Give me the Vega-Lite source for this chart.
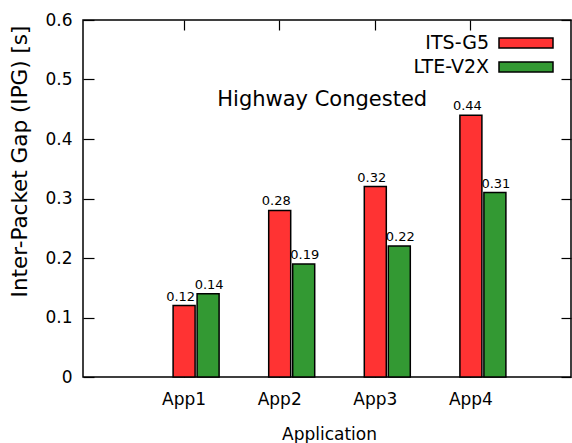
{
  "$schema": "https://vega.github.io/schema/vega-lite/v6.json",
  "width": 488,
  "height": 357,
  "autosize": {"type": "none"},
  "padding": {"left": 83, "top": 20, "right": 1, "bottom": 66},
  "background": "white",
  "config": {
    "view": {"stroke": "black", "strokeWidth": 1.5},
    "font": "DejaVu Sans",
    "axis": {
      "domain": false,
      "grid": false,
      "tickColor": "black",
      "tickWidth": 1.2,
      "labelColor": "black",
      "labelFont": "DejaVu Sans",
      "labelFontSize": 17,
      "titleFont": "DejaVu Sans",
      "titleFontSize": 17,
      "titleFontWeight": "normal",
      "titleColor": "black"
    },
    "legend": {
      "orient": "none",
      "legendX": 432,
      "legendY": 12,
      "symbolType": "M-2.7,-0.5H2.7V0.5H-2.7Z",
      "symbolSize": 400,
      "symbolStrokeColor": "black",
      "symbolStrokeWidth": 1.5,
      "symbolOpacity": 1,
      "labelAlign": "right",
      "labelOffset": -48,
      "labelFont": "DejaVu Sans",
      "labelFontSize": 19,
      "labelColor": "black",
      "rowPadding": 3,
      "padding": 0
    }
  },
  "datasets": {
    "ipg": [
      {"app": 1, "series": "ITS-G5", "ipg": 0.12},
      {"app": 1, "series": "LTE-V2X", "ipg": 0.14},
      {"app": 2, "series": "ITS-G5", "ipg": 0.28},
      {"app": 2, "series": "LTE-V2X", "ipg": 0.19},
      {"app": 3, "series": "ITS-G5", "ipg": 0.32},
      {"app": 3, "series": "LTE-V2X", "ipg": 0.22},
      {"app": 4, "series": "ITS-G5", "ipg": 0.44},
      {"app": 4, "series": "LTE-V2X", "ipg": 0.31}
    ],
    "note": [
      {"label": "Highway Congested", "app": 2.45, "ipg": 0.465}
    ]
  },
  "data": {"name": "ipg"},
  "layer": [
    {
      "encoding": {
        "x": {
          "field": "app",
          "type": "quantitative",
          "scale": {"domain": [0, 5], "nice": false, "zero": false},
          "axis": {
            "orient": "bottom",
            "values": [1, 2, 3, 4],
            "labelExpr": "'App' + datum.value",
            "tickSize": -10,
            "labelPadding": 24,
            "title": "Application",
            "titleX": 246,
            "titleY": 62,
            "titleBaseline": "alphabetic",
            "titleAlign": "center"
          }
        },
        "y": {
          "field": "ipg",
          "type": "quantitative",
          "scale": {"domain": [0, 0.6], "nice": false},
          "axis": {
            "orient": "left",
            "values": [0, 0.1, 0.2, 0.3, 0.4, 0.5, 0.6],
            "format": ".1~f",
            "tickSize": -11,
            "labelPadding": 22,
            "title": "Inter-Packet Gap (IPG) [s]",
            "titleFontSize": 21.5,
            "titleX": -63,
            "titleY": 141,
            "titleAngle": -90,
            "titleBaseline": "middle",
            "titleAlign": "center"
          }
        }
      },
      "layer": [
        {
          "transform": [{"filter": "datum.series === 'ITS-G5'"}],
          "mark": {"type": "bar", "size": 22, "xOffset": 0.5, "stroke": "black", "strokeWidth": 1.5, "opacity": 1},
          "encoding": {
            "color": {
              "field": "series",
              "type": "nominal",
              "scale": {"domain": ["ITS-G5", "LTE-V2X"], "range": ["#ff3333", "#339933"]},
              "legend": {"title": null}
            }
          }
        },
        {
          "transform": [{"filter": "datum.series === 'LTE-V2X'"}],
          "mark": {"type": "bar", "size": 22, "xOffset": 24.5, "stroke": "black", "strokeWidth": 1.5, "opacity": 1},
          "encoding": {
            "color": {"field": "series", "type": "nominal"}
          }
        },
        {
          "transform": [{"filter": "datum.series === 'ITS-G5'"}],
          "mark": {"type": "text", "font": "DejaVu Sans", "fontSize": 13, "baseline": "alphabetic", "dy": -5, "xOffset": -3, "color": "black"},
          "encoding": {"text": {"field": "ipg", "type": "quantitative", "format": ".2f"}}
        },
        {
          "transform": [{"filter": "datum.series === 'LTE-V2X'"}],
          "mark": {"type": "text", "font": "DejaVu Sans", "fontSize": 13, "baseline": "alphabetic", "dy": -5, "xOffset": 25.5, "color": "black"},
          "encoding": {"text": {"field": "ipg", "type": "quantitative", "format": ".2f"}}
        },
        {
          "data": {"name": "note"},
          "mark": {"type": "text", "font": "DejaVu Sans", "fontSize": 21, "baseline": "middle", "align": "center", "color": "black"},
          "encoding": {
            "text": {"field": "label", "type": "nominal"}
          }
        }
      ]
    },
    {
      "mark": {"type": "point", "opacity": 0},
      "encoding": {
        "x": {
          "field": "app",
          "type": "quantitative",
          "axis": {"orient": "top", "values": [1, 2, 3, 4], "labels": false, "title": null, "tickSize": -10}
        },
        "y": {
          "field": "ipg",
          "type": "quantitative",
          "axis": {"orient": "right", "values": [0, 0.1, 0.2, 0.3, 0.4, 0.5, 0.6], "labels": false, "title": null, "tickSize": -10}
        }
      }
    }
  ],
  "resolve": {"axis": {"x": "independent", "y": "independent"}}
}
